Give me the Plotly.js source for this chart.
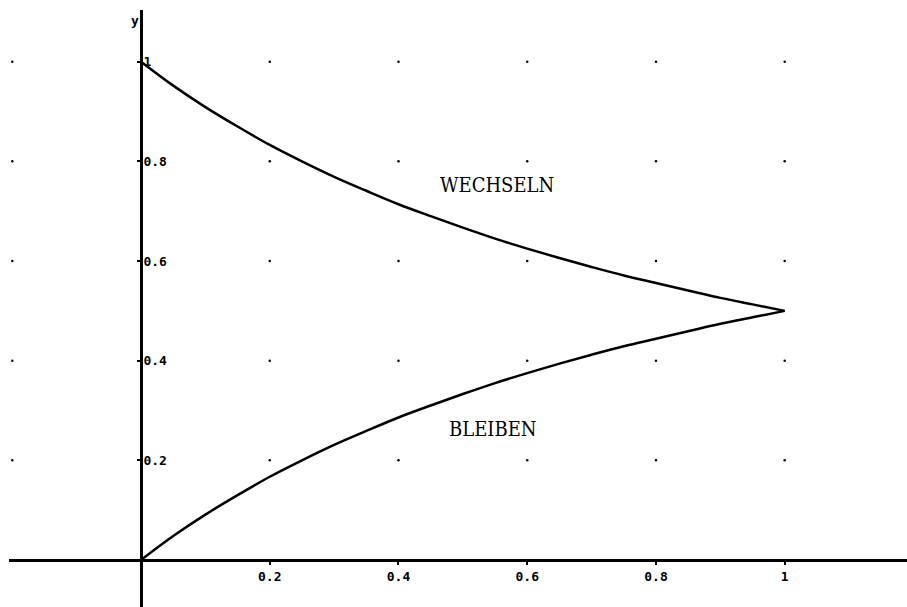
<!DOCTYPE html>
<html>
<head>
<meta charset="utf-8">
<script src="https://cdn.plot.ly/plotly-3.0.1.min.js"></script>
<style>html,body{margin:0;padding:0;background:#fff;}#chart{width:907px;height:607px;}</style>
</head>
<body>
<div id="chart"></div>
<script>
// Values
var pValues = [0, 0.05, 0.1, 0.15, 0.2, 0.25, 0.3, 0.35, 0.4, 0.45, 0.5, 0.55, 0.6, 0.65, 0.7, 0.75, 0.8, 0.85, 0.9, 0.95, 1];
var wechselnValues = [1, 0.952, 0.909, 0.870, 0.833, 0.800, 0.769, 0.741, 0.714, 0.690, 0.667, 0.645, 0.625, 0.606, 0.588, 0.571, 0.556, 0.541, 0.526, 0.513, 0.5];
var bleibenValues = [0, 0.048, 0.091, 0.130, 0.167, 0.200, 0.231, 0.259, 0.286, 0.310, 0.333, 0.355, 0.375, 0.394, 0.412, 0.429, 0.444, 0.459, 0.474, 0.487, 0.5];

var xTickVals = [0.2, 0.4, 0.6, 0.8, 1];
var xTickLabels = ["0.2", "0.4", "0.6", "0.8", "1"];
var yTickVals = [0.2, 0.4, 0.6, 0.8, 1];
var yTickLabels = ["0.2", "0.4", "0.6", "0.8", "1"];
var gridDotX = [-0.2, 0.2, 0.4, 0.6, 0.8, 1];
var gridDotY = [0.2, 0.4, 0.6, 0.8, 1];

var curveLabels = ["WECHSELN", "BLEIBEN"];
var curveLabelX = [0.553, 0.547];
var curveLabelY = [0.753, 0.263];

var dotsX = [], dotsY = [];
gridDotX.forEach(function (gx) {
  gridDotY.forEach(function (gy) { dotsX.push(gx); dotsY.push(gy); });
});

var traces = [
  {x: dotsX, y: dotsY, mode: 'markers', type: 'scatter',
   marker: {color: '#000', size: 2.5}, hoverinfo: 'skip', cliponaxis: false},
  {x: pValues, y: wechselnValues, mode: 'lines', type: 'scatter', name: 'WECHSELN',
   line: {color: '#000', width: 2.5, shape: 'spline'}},
  {x: pValues, y: bleibenValues, mode: 'lines', type: 'scatter', name: 'BLEIBEN',
   line: {color: '#000', width: 2.5, shape: 'spline'}}
];

var tickFont = {family: 'DejaVu Sans Mono', size: 13, color: '#000', weight: 'bold'};

var annotations = curveLabels.map(function (t, i) {
  return {x: curveLabelX[i], y: curveLabelY[i], xref: 'x', yref: 'y', text: t, showarrow: false,
          font: {family: 'DejaVu Serif Condensed', size: 20, color: '#000'}};
});
annotations.push({x: 0.142, y: 0.982, xref: 'paper', yref: 'paper', text: 'y', showarrow: false,
                  font: {family: 'DejaVu Sans Mono', size: 13, color: '#000', weight: 'bold'}});

var layout = {
  width: 907, height: 607,
  margin: {l: 0, r: 0, t: 0, b: 0},
  paper_bgcolor: '#fff', plot_bgcolor: '#fff',
  showlegend: false,
  xaxis: {
    domain: [0.01, 1],
    range: [-0.205, 1.19], showgrid: false, zeroline: false,
    showline: true, linecolor: '#000', linewidth: 3,
    anchor: 'free', position: 0.0774,
    tickmode: 'array', tickvals: xTickVals, ticktext: xTickLabels,
    ticks: 'outside', ticklen: 3, tickwidth: 2, tickcolor: '#000',
    tickfont: tickFont
  },
  yaxis: {
    domain: [0, 0.984],
    range: [-0.0944, 1.1044], showgrid: false, zeroline: false,
    showline: true, linecolor: '#000', linewidth: 3,
    anchor: 'free', position: 0.1555,
    tickmode: 'array', tickvals: yTickVals, ticktext: yTickLabels,
    ticks: 'outside', ticklen: 3, tickwidth: 2, tickcolor: '#000',
    ticklabelposition: 'inside', tickfont: tickFont
  },
  annotations: annotations
};

Plotly.newPlot('chart', traces, layout, {displayModeBar: false, staticPlot: true});
</script>
</body>
</html>
